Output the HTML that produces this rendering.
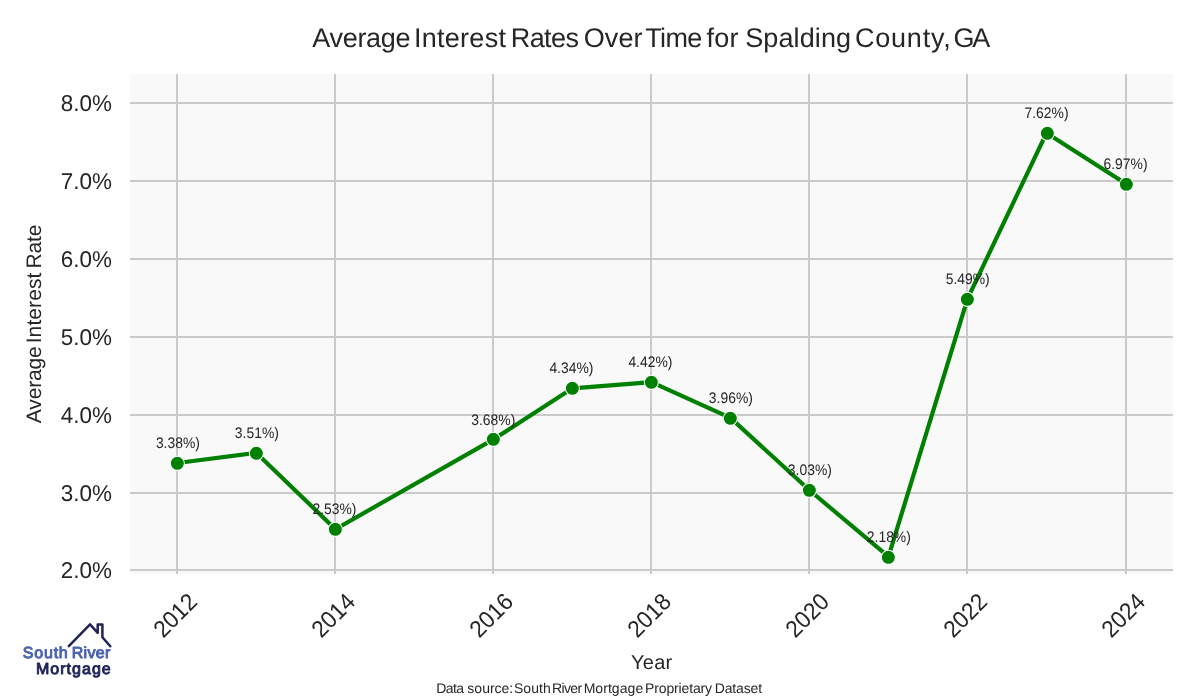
<!DOCTYPE html>
<html lang="en"><head><meta charset="utf-8"><title>Average Interest Rates Over Time for Spalding County, GA</title>
<style>
html,body{margin:0;padding:0;background:#fff;}
body{width:1200px;height:700px;overflow:hidden;font-family:"Liberation Sans",sans-serif;}
svg{display:block}
text{font-family:"Liberation Sans",sans-serif;fill:#262626;text-rendering:geometricPrecision}
</style></head><body>
<svg width="1200" height="700" viewBox="0 0 1200 700">
<rect width="1200" height="700" fill="#ffffff"/>
<rect x="130" y="74" width="1043" height="500" fill="#f9f9f9" shape-rendering="crispEdges"/>
<g fill="#cacaca" shape-rendering="crispEdges">
<rect x="176" y="74" width="2" height="500"/>
<rect x="334" y="74" width="2" height="500"/>
<rect x="492" y="74" width="2" height="500"/>
<rect x="650" y="74" width="2" height="500"/>
<rect x="808" y="74" width="2" height="500"/>
<rect x="966" y="74" width="2" height="500"/>
<rect x="1125" y="74" width="2" height="500"/>
<rect x="130" y="102" width="1043" height="2"/>
<rect x="130" y="180" width="1043" height="2"/>
<rect x="130" y="258" width="1043" height="2"/>
<rect x="130" y="336" width="1043" height="2"/>
<rect x="130" y="414" width="1043" height="2"/>
<rect x="130" y="492" width="1043" height="2"/>
<rect x="130" y="569" width="1043" height="2"/>
</g>
<polyline points="177.41,463.03 256.42,452.91 335.43,529.19 493.44,439.37 572.45,388.30 651.46,382.08 730.47,417.88 809.48,490.27 888.49,556.67 967.50,298.79 1046.50,132.99 1125.51,183.59" fill="none" stroke="#008000" stroke-width="4.17" stroke-linejoin="round" stroke-linecap="round"/>
<g fill="#008000" stroke="#ffffff" stroke-width="1.04">
<circle cx="177.36" cy="463.36" r="7.02"/>
<circle cx="256.36" cy="453.36" r="7.02"/>
<circle cx="335.36" cy="529.36" r="7.02"/>
<circle cx="493.36" cy="439.36" r="7.02"/>
<circle cx="572.36" cy="388.36" r="7.02"/>
<circle cx="651.36" cy="382.36" r="7.02"/>
<circle cx="730.36" cy="418.36" r="7.02"/>
<circle cx="809.36" cy="490.36" r="7.02"/>
<circle cx="888.36" cy="557.36" r="7.02"/>
<circle cx="967.36" cy="299.36" r="7.02"/>
<circle cx="1047.36" cy="133.36" r="7.02"/>
<circle cx="1126.36" cy="184.36" r="7.02"/>
</g>
<g font-size="15.28" text-anchor="middle">
<text transform="translate(177.90,448) scale(0.91,1)">3.38%)</text>
<text transform="translate(256.85,438) scale(0.91,1)">3.51%)</text>
<text transform="translate(334.46,514) scale(0.91,1)">2.53%)</text>
<text transform="translate(493.30,425) scale(0.91,1)">3.68%)</text>
<text transform="translate(571.40,373) scale(0.91,1)">4.34%)</text>
<text transform="translate(650.40,367) scale(0.91,1)">4.42%)</text>
<text transform="translate(730.85,403) scale(0.91,1)">3.96%)</text>
<text transform="translate(809.85,475) scale(0.91,1)">3.03%)</text>
<text transform="translate(888.83,542) scale(0.91,1)">2.18%)</text>
<text transform="translate(967.69,284) scale(0.91,1)">5.49%)</text>
<text transform="translate(1046.54,118) scale(0.91,1)">7.62%)</text>
<text transform="translate(1125.54,169) scale(0.91,1)">6.97%)</text>
</g>
<g font-size="22.9" text-anchor="end">
<text transform="translate(112,578.00) scale(0.98,1)">2.0%</text>
<text transform="translate(112,501.00) scale(0.98,1)">3.0%</text>
<text transform="translate(112,423.00) scale(0.98,1)">4.0%</text>
<text transform="translate(112,345.00) scale(0.98,1)">5.0%</text>
<text transform="translate(112,267.00) scale(0.98,1)">6.0%</text>
<text transform="translate(112,189.00) scale(0.98,1)">7.0%</text>
<text transform="translate(112,111.00) scale(0.98,1)">8.0%</text>
</g>
<g font-size="23.7" text-anchor="middle">
<text transform="translate(174.91,615.00) rotate(-45) scale(0.95,1)" x="0" y="8.4">2012</text>
<text transform="translate(332.93,615.00) rotate(-45) scale(0.95,1)" x="0" y="8.4">2014</text>
<text transform="translate(490.94,615.00) rotate(-45) scale(0.95,1)" x="0" y="8.4">2016</text>
<text transform="translate(648.96,615.00) rotate(-45) scale(0.95,1)" x="0" y="8.4">2018</text>
<text transform="translate(806.98,615.00) rotate(-45) scale(0.95,1)" x="0" y="8.4">2020</text>
<text transform="translate(965.00,615.00) rotate(-45) scale(0.95,1)" x="0" y="8.4">2022</text>
<text transform="translate(1123.01,615.00) rotate(-45) scale(0.95,1)" x="0" y="8.4">2024</text>
</g>
<g id="title">
<text x="312.19" y="46.9" font-size="27" letter-spacing="-0.279">Average</text>
<text x="413.98" y="46.9" font-size="27" letter-spacing="0.273">Interest</text>
<text x="510.76" y="46.9" font-size="27" letter-spacing="-0.585">Rates</text>
<text x="583.69" y="46.9" font-size="27" letter-spacing="0.105">Over</text>
<text x="645.25" y="46.9" font-size="27" letter-spacing="-0.655">Time</text>
<text x="706.61" y="46.9" font-size="27" letter-spacing="0.194">for</text>
<text x="745.19" y="46.9" font-size="27" letter-spacing="0.106">Spalding</text>
<text x="854.98" y="46.9" font-size="27" letter-spacing="0.791">County,</text>
<text x="953.59" y="46.9" font-size="27" letter-spacing="-2.341">GA</text>
</g>
<g id="ylabel" transform="translate(41.1,1000) rotate(-90)">
<text x="576.87" y="0" font-size="21" letter-spacing="-0.175">Average</text>
<text x="656.71" y="0" font-size="21" letter-spacing="0.087">Interest</text>
<text x="731.56" y="0" font-size="21" letter-spacing="-0.167">Rate</text>
</g>
<g id="xlabel">
<text x="630.90" y="668.8" font-size="20" letter-spacing="0.308">Year</text>
</g>
<g id="source">
<text x="436.33" y="693.1" font-size="14" letter-spacing="-0.634">Data</text>
<text x="467.36" y="693.1" font-size="14" letter-spacing="-0.005">source:</text>
<text x="514.00" y="693.1" font-size="14" letter-spacing="0.027">South</text>
<text x="552.05" y="693.1" font-size="14" letter-spacing="-0.632">River</text>
<text x="583.66" y="693.1" font-size="14" letter-spacing="0.054">Mortgage</text>
<text x="645.05" y="693.1" font-size="14" letter-spacing="-0.142">Proprietary</text>
<text x="714.68" y="693.1" font-size="14" letter-spacing="-0.147">Dataset</text>
</g>
<g id="logo">
<polyline points="68.8,646.1 90.05,624.4 97.7,632.9 97.7,624.4 102.4,624.4 102.4,637.2 110.3,646.2" fill="none" stroke="#1f2357" stroke-width="2.5" stroke-linejoin="round" stroke-linecap="round"/>
<text x="22.80" y="658.2" font-size="16" letter-spacing="0.790" style="fill:#4a63ae;stroke:#4a63ae;stroke-width:0.95;stroke-linejoin:round">South</text>
<text x="71.69" y="658.2" font-size="16" letter-spacing="0.334" style="fill:#4a63ae;stroke:#4a63ae;stroke-width:0.95;stroke-linejoin:round">River</text>
<text x="35.88" y="674.2" font-size="16" letter-spacing="1.043" style="fill:#1f2357;stroke:#1f2357;stroke-width:0.95;stroke-linejoin:round">Mortgage</text>
</g>
</svg>
</body></html>
